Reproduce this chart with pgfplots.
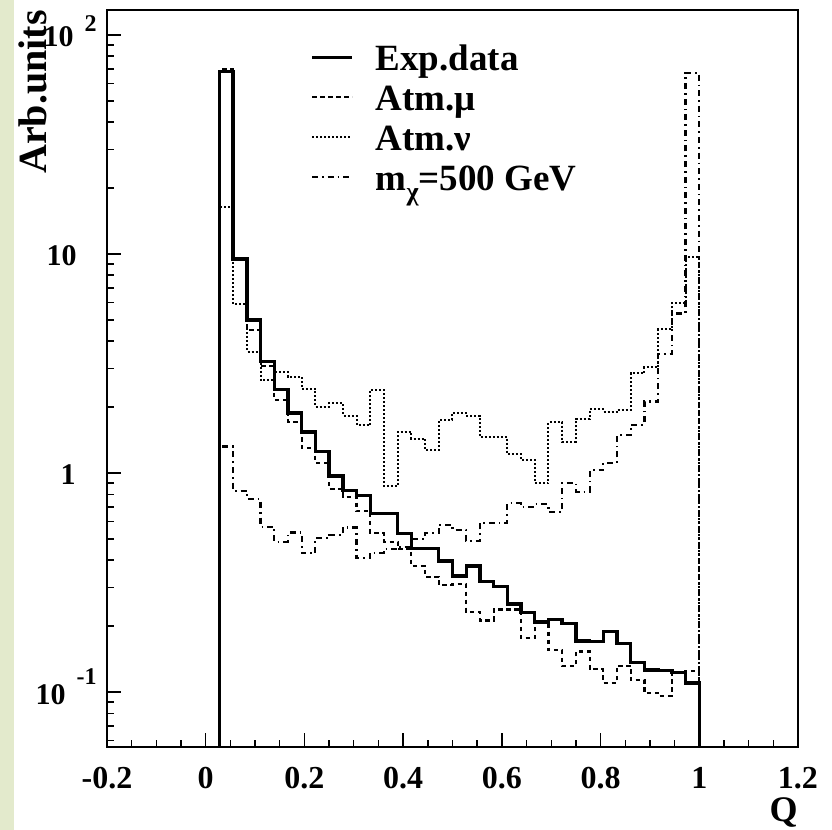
\documentclass[border=0pt]{standalone}
\usepackage{fontspec}
\setmainfont{Liberation Serif}
\usepackage{pgfplots}
\usepackage{pgfplotstable}
\pgfplotsset{compat=1.18}
\pgfplotsset{legend image code/.code={\draw[#1] (0pt,2.5pt) -- (20pt,2.5pt);}}
\definecolor{stripgreen}{RGB}{227,234,204}

\pgfplotstableread{
x exp mu nu chi
0.02778 0.001 0.001 0.001 0.001
0.02778 68 70 16.4 1.32
0.05556 9.49 9.6 5.9 0.83
0.08333 5.0 4.5 3.58 0.76
0.11111 3.22 3.08 2.66 0.569
0.13889 2.41 2.15 2.9 0.486
0.16667 1.88 1.71 2.75 0.535
0.19444 1.54 1.30 2.42 0.43
0.22222 1.25 1.11 2.0 0.505
0.25 0.97 0.845 2.08 0.52
0.27778 0.83 0.78 1.83 0.564
0.30556 0.787 0.67 1.66 0.41
0.33333 0.655 0.533 2.4 0.433
0.36111 0.655 0.486 0.87 0.45
0.38889 0.53 0.45 1.54 0.46
0.41667 0.453 0.375 1.43 0.50
0.44444 0.453 0.336 1.27 0.53
0.47222 0.396 0.308 1.74 0.58
0.5 0.339 0.31 1.88 0.55
0.52778 0.376 0.232 1.83 0.49
0.55556 0.319 0.212 1.46 0.593
0.58333 0.303 0.238 1.46 0.593
0.61111 0.252 0.238 1.22 0.727
0.63889 0.230 0.176 1.15 0.70
0.66667 0.209 0.208 0.90 0.72
0.69444 0.215 0.155 1.71 0.665
0.72222 0.206 0.131 1.39 0.903
0.75 0.171 0.153 1.76 0.821
0.77778 0.170 0.127 1.95 1.03
0.80556 0.189 0.11 1.90 1.11
0.83333 0.167 0.132 1.94 1.49
0.86111 0.136 0.113 2.85 1.66
0.88889 0.126 0.099 3.04 2.12
0.91667 0.125 0.096 4.53 3.5
0.94444 0.123 0.122 5.96 5.35
0.97222 0.110 0.125 9.7 67
1.0 0.001 0.001 0.001 0.001
}\histdata

\begin{document}
\begin{tikzpicture}
\path[use as bounding box] (0,0) rectangle (416pt,415pt);
\fill[stripgreen] (0,0) rectangle (7pt,415pt);
\begin{axis}[
  at={(53.5pt,41.5pt)}, anchor=south west,
  scale only axis, width=345.5pt, height=368.5pt,
  xmin=-0.2, xmax=1.2, ymode=log, ymin=0.0561, ymax=130,
  axis line style={line width=1.2pt},
  tick pos=left, tick align=inside,
  major tick length=7pt, minor tick length=3.5pt,
  tick style={black, line width=0.7pt},
  xtick={-0.2,0,0.2,0.4,0.6,0.8,1,1.2},
  xticklabels={-0.2,0,0.2,0.4,0.6,0.8,1,1.2},
  minor x tick num=3,
  ytick={0.1,1,10,100},
  minor ytick={0.06,0.07,0.08,0.09,0.2,0.3,0.4,0.5,0.6,0.7,0.8,0.9,2,3,4,5,6,7,8,9,20,30,40,50,60,70,80,90},
  yticklabels={
    {10\hspace{5.5pt}\raisebox{10pt}{\fontsize{12}{12}\selectfont -1}},
    {\makebox[25pt][l]{\hspace{7pt}1}},
    {\makebox[25pt][l]{10}},
    {10\hspace{5.5pt}\raisebox{7.5pt}{\fontsize{12}{12}\selectfont 2}}
  },
  xticklabel style={font=\fontsize{16}{16}\selectfont\bfseries, inner sep=0pt, anchor=base, yshift=-21pt},
  yticklabel style={font=\fontsize{15}{15}\selectfont\bfseries, inner sep=0pt, anchor=base east, xshift=-5pt, yshift=-6pt},
  xlabel={Q}, ylabel={Arb.units},
  every axis x label/.style={at={([yshift=-25pt]rel axis cs:1,0)}, anchor=north east, inner sep=0pt, font=\fontsize{18}{18}\selectfont\bfseries},
  every axis y label/.style={at={([xshift=-30pt]rel axis cs:0,1)}, rotate=90, anchor=south east, inner sep=0pt, font=\fontsize{20}{20}\selectfont\bfseries},
  legend cell align=left,
  legend style={draw=none, fill=none, at={(0.2938,0.9566)}, anchor=north west, inner sep=0pt, row sep=0pt,
    column sep=11pt,
    font=\fontsize{18.5}{18.5}\selectfont\bfseries,
    nodes={inner sep=0pt, text height=14pt, text depth=6pt}},
]
\addplot[const plot mark left, black, line width=1.7pt]
  table[x=x, y=exp] {\histdata};
\addlegendentry{Exp.data}
\addplot[const plot mark left, black, line width=1.1pt, dash pattern=on 2.2pt off 1.8pt]
  table[x=x, y=mu] {\histdata};
\addlegendentry{Atm.μ}
\addplot[const plot mark left, black, line width=1pt, dash pattern=on 1pt off 1pt]
  table[x=x, y=nu] {\histdata};
\addlegendentry{Atm.ν}
\addplot[const plot mark left, black, line width=1.1pt, dash pattern=on 3pt off 2pt on 0.8pt off 2pt]
  table[x=x, y=chi] {\histdata};
\addlegendentry{m\raisebox{-5pt}{\fontsize{13}{13}\selectfont χ}=500 GeV}
\end{axis}
\end{tikzpicture}
\end{document}
